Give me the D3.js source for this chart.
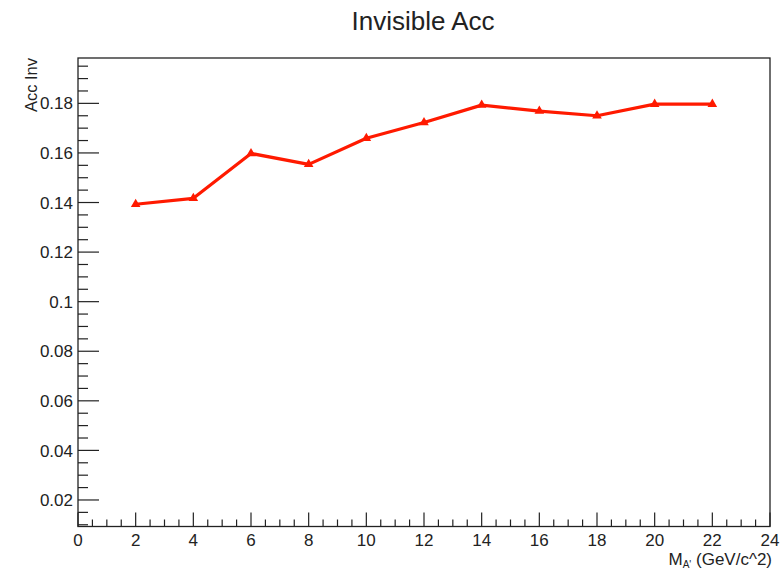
<!DOCTYPE html>
<html>
<head>
<meta charset="utf-8">
<script src="https://cdn.jsdelivr.net/npm/d3@7"></script>
<style>
  html, body { margin: 0; padding: 0; background: #fff; }
  svg { display: block; font-family: "Liberation Sans", Arial, Helvetica, sans-serif; }
</style>
</head>
<body>
<svg id="chart" width="780" height="570"></svg>
<script>
// Mass points (GeV/c^2) and invisible-channel acceptance
const masses = [2, 4, 6, 8, 10, 12, 14, 16, 18, 20, 22];
const accInv = [0.1393, 0.1417, 0.1598, 0.1554, 0.1659, 0.1723, 0.1793, 0.1769, 0.1750, 0.1797, 0.1797];

const xMajorTicks = [0, 2, 4, 6, 8, 10, 12, 14, 16, 18, 20, 22, 24];
const yMajorTicks = [0.02, 0.04, 0.06, 0.08, 0.1, 0.12, 0.14, 0.16, 0.18];

const title = "Invisible Acc";
const yTitle = "Acc Inv";

const svg = d3.select("#chart");
const frame = { left: 78, right: 770, top: 58, bottom: 526.5 };

const x = d3.scaleLinear().domain([0, 24]).range([frame.left, frame.right]);
const y = d3.scaleLinear().domain([0.0093, 0.1983]).range([frame.bottom, frame.top]);

const ink = "#222";

// Frame box
svg.append("rect")
  .attr("x", frame.left).attr("y", frame.top)
  .attr("width", frame.right - frame.left).attr("height", frame.bottom - frame.top)
  .attr("fill", "none").attr("stroke", ink).attr("stroke-width", 1.3);

// Minor ticks
const xMinor = d3.range(0, 24.001, 0.5).filter(v => Math.abs(v / 2 - Math.round(v / 2)) > 1e-6);
const yMinor = d3.range(0.01, 0.1983, 0.005).filter(v => Math.abs(v / 0.02 - Math.round(v / 0.02)) > 1e-6);

// X axis (ticks pointing inward)
const xAxis = svg.append("g").attr("transform", `translate(0,${frame.bottom})`);
xAxis.selectAll("line.minor").data(xMinor).join("line")
  .attr("x1", d => x(d)).attr("x2", d => x(d)).attr("y1", 0).attr("y2", -7)
  .attr("stroke", ink).attr("stroke-width", 1.2);
xAxis.selectAll("line.major").data(xMajorTicks).join("line")
  .attr("x1", d => x(d)).attr("x2", d => x(d)).attr("y1", 0).attr("y2", -14)
  .attr("stroke", ink).attr("stroke-width", 1.2);
xAxis.selectAll("text").data(xMajorTicks).join("text")
  .attr("x", d => x(d)).attr("y", 19)
  .attr("text-anchor", "middle").attr("font-size", 17).attr("fill", ink)
  .text(d => d);

// Y axis
const yAxis = svg.append("g").attr("transform", `translate(${frame.left},0)`);
yAxis.selectAll("line.minor").data(yMinor).join("line")
  .attr("x1", 0).attr("x2", 10).attr("y1", d => y(d)).attr("y2", d => y(d))
  .attr("stroke", ink).attr("stroke-width", 1.2);
yAxis.selectAll("line.major").data(yMajorTicks).join("line")
  .attr("x1", 0).attr("x2", 21).attr("y1", d => y(d)).attr("y2", d => y(d))
  .attr("stroke", ink).attr("stroke-width", 1.2);
yAxis.selectAll("text").data(yMajorTicks).join("text")
  .attr("x", -5).attr("y", d => y(d)).attr("dy", "0.36em")
  .attr("text-anchor", "end").attr("font-size", 17).attr("fill", ink)
  .text(d => d3.format("~g")(d));

// Title
svg.append("text")
  .attr("x", 423).attr("y", 30)
  .attr("text-anchor", "middle").attr("font-size", 26).attr("fill", ink)
  .text(title);

// Y title (rotated, right-aligned at top of frame)
svg.append("text")
  .attr("transform", `translate(37,${frame.top}) rotate(-90)`)
  .attr("text-anchor", "end").attr("font-size", 16.5).attr("fill", ink)
  .text(yTitle);

// X title with subscript
const xt = svg.append("text")
  .attr("x", frame.right + 2).attr("y", 565)
  .attr("text-anchor", "end").attr("font-size", 17).attr("fill", ink);
xt.append("tspan").text("M");
xt.append("tspan").attr("font-size", 10).attr("dy", 2.5).text("A'");
xt.append("tspan").attr("dy", -2.5).text(" (GeV/c^2)");

// Data line
const line = d3.line().x((d, i) => x(masses[i])).y(d => y(d));
svg.append("path")
  .datum(accInv)
  .attr("d", line)
  .attr("fill", "none").attr("stroke", "#ff1a00").attr("stroke-width", 3.2)
  .attr("stroke-linejoin", "round");

// Triangle markers
const tri = d3.symbol().type(d3.symbolTriangle).size(40);
svg.selectAll("path.marker").data(accInv).join("path")
  .attr("class", "marker")
  .attr("transform", (d, i) => `translate(${x(masses[i])},${y(d)})`)
  .attr("d", tri)
  .attr("fill", "#ff1a00");
</script>
</body>
</html>
